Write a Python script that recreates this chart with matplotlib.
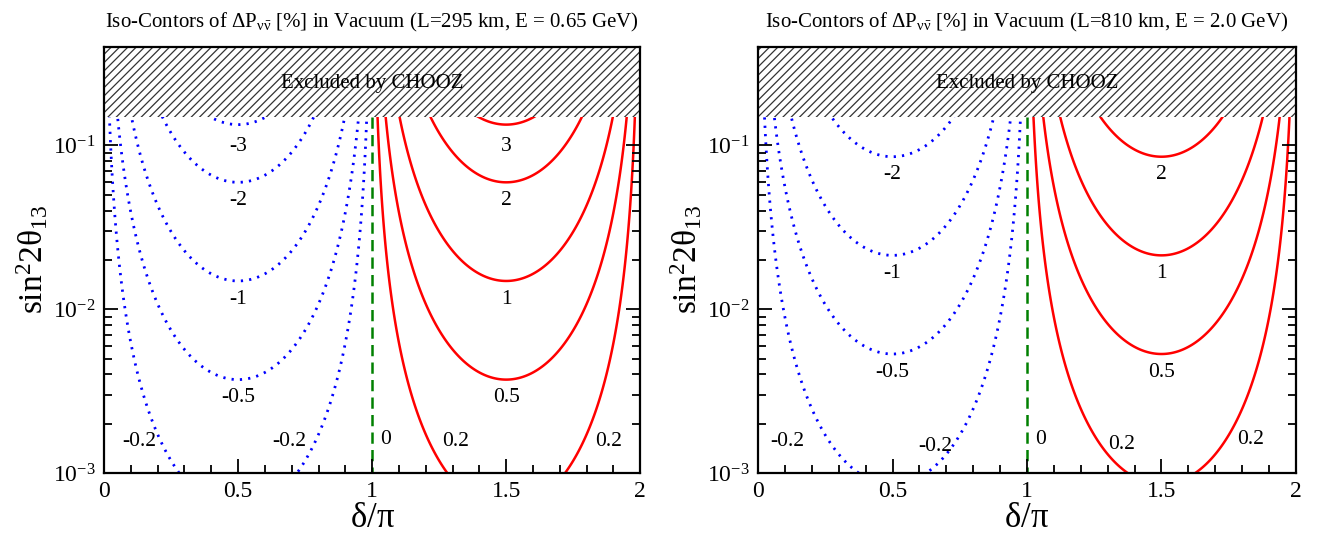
import numpy as np
import matplotlib
matplotlib.use("Agg")
import matplotlib.pyplot as plt
from matplotlib.ticker import LogLocator, MultipleLocator, FixedLocator, NullFormatter

plt.rcParams['font.family'] = ['Liberation Serif', 'DejaVu Serif']
plt.rcParams['mathtext.fontset'] = 'custom'
plt.rcParams['mathtext.rm'] = 'Liberation Serif'
plt.rcParams['mathtext.it'] = 'Liberation Serif:italic'
plt.rcParams['mathtext.bf'] = 'Liberation Serif:bold'
plt.rcParams['mathtext.default'] = 'regular'
plt.rcParams['hatch.linewidth'] = 0.9

# ---------------- data ----------------
panel_titles = [
    r'Iso-Contors of $\Delta P_{\nu\bar{\nu}}$ [%] in Vacuum (L=295 km, E = 0.65 GeV)',
    r'Iso-Contors of $\Delta P_{\nu\bar{\nu}}$ [%] in Vacuum (L=810 km, E = 2.0 GeV)',
]
amplitude = [8.2, 6.85]
levels_left = [-3, -2, -1, -0.5, -0.2, 0, 0.2, 0.5, 1, 2, 3]
levels_right = [-2, -1, -0.5, -0.2, 0, 0.2, 0.5, 1, 2]
panel_levels = [levels_left, levels_right]
chooz_limit = 0.15
ylims = (1e-3, 0.4)
xlims = (0, 2)
xticks = [0, 0.5, 1, 1.5, 2]
xtick_labels = ['0', '0.5', '1', '1.5', '2']
ytick_labels = [r'$10^{-3}$', r'$10^{-2}$', r'$10^{-1}$']
# labels for the small-amplitude contours near the bottom (value, delta/pi, sin^2 2theta13)
bottom_labels_left = [(-0.2, 0.13, 1.55e-3), (-0.2, 0.69, 1.55e-3), (0, 1.05, 1.6e-3),
                      (0.2, 1.31, 1.55e-3), (0.2, 1.88, 1.55e-3)]
bottom_labels_right = [(-0.2, 0.11, 1.55e-3), (-0.2, 0.66, 1.45e-3), (0, 1.05, 1.6e-3),
                       (0.2, 1.35, 1.5e-3), (0.2, 1.83, 1.6e-3)]
panel_bottom_labels = [bottom_labels_left, bottom_labels_right]


def fmt(v):
    return '0' if v == 0 else ('%g' % v)


fig = plt.figure(figsize=(13.22, 5.40), dpi=100)
axes_rects = [[0.0787, 0.124, 0.4056, 0.7895], [0.5734, 0.124, 0.4069, 0.7895]]

x = np.linspace(0.0005, 1.9995, 800)
y = np.logspace(np.log10(ylims[0]), np.log10(ylims[1]), 600)
X, Y = np.meshgrid(x, y)

for i in range(2):
    ax = fig.add_axes(axes_rects[i])
    A = amplitude[i]
    Z = -A * np.sqrt(Y) * np.sin(np.pi * X)
    levs = panel_levels[i]
    neg = [l for l in levs if l < 0]
    pos = [l for l in levs if l > 0]
    ax.contour(X, Y, Z, levels=neg, colors='#0000ff', linewidths=2.0,
               linestyles=[(0, (0.8, 2.2))], zorder=1)
    ax.contour(X, Y, Z, levels=pos, colors='#ff0000', linewidths=1.8,
               linestyles='solid', zorder=1)
    ax.contour(X, Y, Z, levels=[0], colors='#008000', linewidths=1.8,
               linestyles=[(0, (4.5, 2.5))], zorder=1)

    # excluded region
    ax.fill_between(xlims, chooz_limit, ylims[1], facecolor='white',
                    edgecolor='#333333', hatch='////', linewidth=0, zorder=2)
    ax.text(1.0, np.sqrt(chooz_limit * ylims[1]) * 0.97, 'Excluded by CHOOZ',
            ha='center', va='center', fontsize=15, zorder=3)

    # labels at the curve minima
    for l in levs:
        if abs(l) >= 0.5:
            smin = (l / A) ** 2
            if smin < chooz_limit:
                xc = 0.5 if l < 0 else 1.5
                off = -13 if abs(l) < 3 else -16
                ax.annotate(fmt(l), xy=(xc, smin), xytext=(0, off),
                            textcoords='offset points', ha='center', va='center',
                            fontsize=15.5, zorder=3)
    for v, xv, yv in panel_bottom_labels[i]:
        ax.text(xv, yv, fmt(v), ha='center', va='center', fontsize=15.5, zorder=3)

    ax.set_yscale('log')
    ax.set_xlim(*xlims)
    ax.set_ylim(*ylims)
    ax.set_xticks(xticks)
    ax.set_xticklabels(xtick_labels)
    ax.xaxis.set_minor_locator(MultipleLocator(0.1))
    ax.yaxis.set_major_locator(FixedLocator([1e-3, 1e-2, 1e-1]))
    ax.yaxis.set_minor_locator(LogLocator(base=10, subs=np.arange(2, 10)))
    ax.yaxis.set_minor_formatter(NullFormatter())
    ax.set_yticklabels(ytick_labels)
    ax.tick_params(which='both', direction='in', top=True, right=True,
                   labelsize=17, width=1.3)
    ax.tick_params(which='major', length=10, pad=6)
    ax.tick_params(which='minor', length=5.5)
    for s in ax.spines.values():
        s.set_linewidth(1.6)
        s.set_zorder(4)
    ax.set_xlabel(r'$\delta/\pi$', fontsize=25, labelpad=0)
    ax.set_ylabel(r'$sin^{2}2\theta_{13}$', fontsize=24, labelpad=2)
    ax.set_title(panel_titles[i], fontsize=15, pad=14)

fig.savefig('out.png', dpi=100)
